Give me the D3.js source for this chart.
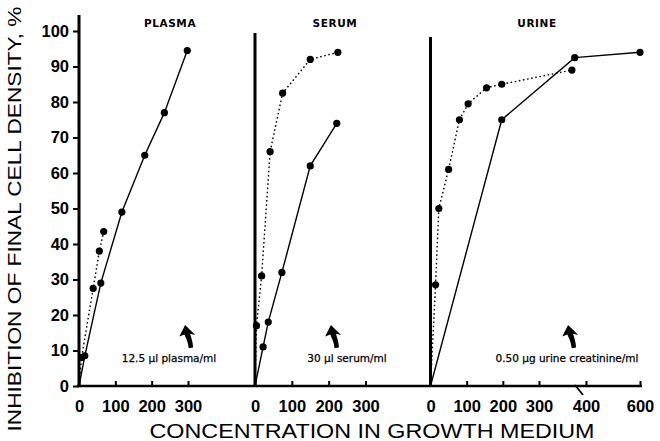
<!DOCTYPE html>
<html>
<head>
<meta charset="utf-8">
<script src="https://cdn.jsdelivr.net/npm/d3@7"></script>
<style>
  body { margin: 0; background: #fff; }
  svg { display: block; }
</style>
</head>
<body>
<div id="chart"></div>
<script>
// Values: [concentration, % inhibition]
const plasmaSolid = [[0, 0], [16, 8.5], [60, 29], [118, 49], [181, 65], [235, 77], [298, 94.5]];
const plasmaDotted = [[0, 0], [7, 8], [39, 27.5], [56, 38], [68, 43.5]];
const serumSolid = [[0, 0], [22, 11], [36, 18], [73, 32], [150, 62], [222, 74]];
const serumDotted = [[0, 0], [4, 17], [18, 31], [41, 66], [75, 82.5], [150, 92], [225, 94]];
const urineSolid = [[0, 0], [197, 75], [376, 92.5], [600, 94]];
const urineDotted = [[0, 0], [14, 28.5], [23, 50], [50, 61], [80, 75], [104, 79.5], [155, 84], [197, 85], [370, 89]];

const panelNames = ["PLASMA", "SERUM", "URINE"];
const doseLabels = ["12.5 µl plasma/ml", "30 µl serum/ml", "0.50 µg urine creatinine/ml"];
const doseValues = [300, 214, 368];
const yTickValues = [0, 10, 20, 30, 40, 50, 60, 70, 80, 90, 100];
const xTickValues = [[0, 100, 200, 300], [0, 100, 200, 300], [0, 100, 200, 300, 400, 600]];

const width = 660;
const height = 441;
const svg = d3.select("#chart").append("svg")
  .attr("width", width)
  .attr("height", height)
  .style("font-family", "'DejaVu Sans', sans-serif");

const y = d3.scaleLinear().domain([0, 100]).range([386, 31]);
const baseY = y(0);

// one x scale per panel (urine axis is broken after 300)
const panels = [
  { x: d3.scaleLinear().domain([0, 300]).range([79, 188]), solid: plasmaSolid, dotted: plasmaDotted, top: 15 },
  { x: d3.scaleLinear().domain([0, 300]).range([255, 365.5]), solid: serumSolid, dotted: serumDotted, top: 33 },
  { x: d3.scaleLinear().domain([0, 300, 400, 600]).range([430.5, 539, 586, 640]), solid: urineSolid, dotted: urineDotted, top: 37 }
];

// shared baseline
svg.append("line")
  .attr("x1", 77).attr("x2", 642)
  .attr("y1", baseY).attr("y2", baseY)
  .attr("stroke", "#000").attr("stroke-width", 2.5);

const line = (sc) => d3.line().x((d) => sc(d[0])).y((d) => y(d[1]));

panels.forEach((p, i) => {
  const g = svg.append("g");

  // x ticks
  const xAxis = d3.axisBottom(p.x)
    .tickValues(xTickValues[i])
    .tickSize(-5)
    .tickPadding(14)
    .tickFormat(d3.format("d"));
  const ax = g.append("g")
    .attr("transform", `translate(0,${baseY})`)
    .call(xAxis);
  ax.select(".domain").remove();
  ax.selectAll(".tick line").attr("stroke", "#000").attr("stroke-width", 2);
  ax.selectAll(".tick text")
    .attr("fill", "#000")
    .style("font-size", "16.5px")
    .style("font-weight", "bold");

  // curves
  g.append("path")
    .datum(p.dotted)
    .attr("d", line(p.x))
    .attr("fill", "none")
    .attr("stroke", "#000")
    .attr("stroke-width", 1.4)
    .attr("stroke-dasharray", "1.6,2.6");

  g.append("path")
    .datum(p.solid)
    .attr("d", line(p.x))
    .attr("fill", "none")
    .attr("stroke", "#000")
    .attr("stroke-width", 1.4);

  g.selectAll(".dot")
    .data(p.solid.slice(1).concat(p.dotted.slice(1)))
    .enter()
    .append("circle")
    .attr("cx", (d) => p.x(d[0]))
    .attr("cy", (d) => y(d[1]))
    .attr("r", 3.6)
    .attr("fill", "#000");

  // panel title
  g.append("text")
    .attr("x", [170, 335, 537][i])
    .attr("y", 27)
    .attr("text-anchor", "middle")
    .style("font-size", "10.5px")
    .style("font-weight", "bold")
    .style("letter-spacing", "0.6px")
    .text(panelNames[i]);

  // dose marker arrow + label
  const ax0 = p.x(doseValues[i]);
  g.append("path")
    .attr("transform", `translate(${ax0},338) scale(1.45)`)
    .attr("d", "M-2,-9 L-6,-1 L-2.5,-2.5 C-1.5,0 0,2 0.5,7 L3.5,6.5 C3.5,2.5 2,-0.5 1.5,-3 L5,-2 Z")
    .attr("fill", "#000");

  g.append("text")
    .attr("x", [169, 347, 567][i])
    .attr("y", 362)
    .attr("text-anchor", "middle")
    .style("font-size", "10.5px")
    .style("stroke", "#000")
    .style("stroke-width", 0.25)
    .text(doseLabels[i]);
});

// break mark on urine axis
const ux = panels[2].x;
svg.append("line")
  .attr("x1", ux(400) - 11).attr("y1", baseY - 1)
  .attr("x2", ux(400) - 3).attr("y2", baseY + 9)
  .attr("stroke", "#000").attr("stroke-width", 1.8);

// y axis of the plasma panel carries the labels
const yAxis = d3.axisLeft(y)
  .tickValues(yTickValues)
  .tickSize(6)
  .tickPadding(4)
  .tickFormat(d3.format("d"));
const ay = svg.append("g")
  .attr("transform", `translate(${panels[0].x(0)},0)`)
  .call(yAxis);
ay.select(".domain").remove();
ay.selectAll(".tick line").attr("stroke", "#000").attr("stroke-width", 2);
ay.selectAll(".tick text")
  .attr("fill", "#000")
  .style("font-size", "16.5px")
  .style("font-weight", "bold");

// vertical axis lines, drawn last so they sit on top
svg.selectAll(".vaxis")
  .data(panels)
  .enter()
  .append("rect")
  .attr("class", "vaxis")
  .attr("x", (p) => p.x(0) - 1.5)
  .attr("y", (p) => p.top)
  .attr("width", 3)
  .attr("height", (p) => baseY + 1 - p.top)
  .attr("fill", "#000");

// axis titles
svg.append("text")
  .attr("transform", "translate(21,219) rotate(-90)")
  .attr("text-anchor", "middle")
  .style("font-family", "'Liberation Sans', Arial, sans-serif")
  .style("font-size", "19px")
  .attr("textLength", 425)
  .attr("lengthAdjust", "spacingAndGlyphs")
  .text("INHIBITION OF FINAL CELL DENSITY, %");

svg.append("text")
  .attr("x", 372)
  .attr("y", 438)
  .attr("text-anchor", "middle")
  .style("font-family", "'Liberation Sans', Arial, sans-serif")
  .style("font-size", "20px")
  .attr("textLength", 445)
  .attr("lengthAdjust", "spacingAndGlyphs")
  .text("CONCENTRATION IN GROWTH MEDIUM");
</script>
</body>
</html>
